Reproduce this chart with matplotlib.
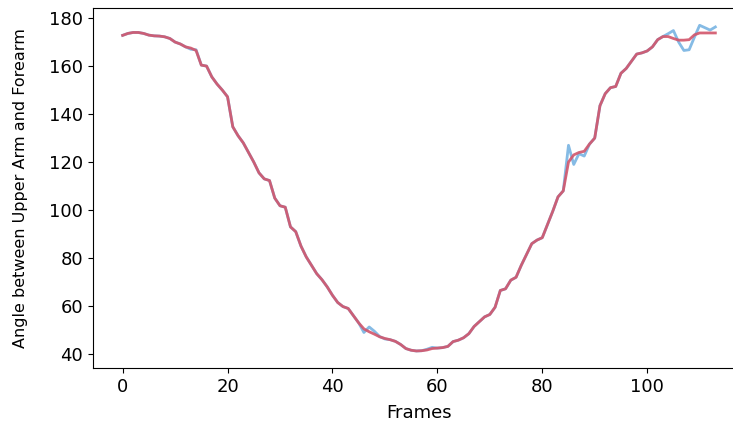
import matplotlib
matplotlib.use("Agg")
import matplotlib.pyplot as plt
import numpy as np

frames = list(range(114))

smoothed = [
    172.8, 173.6, 174.0, 174.0, 173.6, 172.9, 172.6, 172.5, 172.2, 171.5,
    170.0, 169.2, 168.0, 167.5, 166.5, 160.4, 160.0, 155.5, 152.5, 150.0,
    147.2, 134.7, 131.0, 128.0, 124.0, 120.0, 115.5, 113.0, 112.3, 105.0,
    101.8, 101.2, 93.0, 91.0, 85.0, 80.5, 77.0, 73.5, 71.0, 68.0,
    64.5, 61.5, 59.8, 59.0, 56.0, 53.0, 50.5, 49.3, 48.3, 47.2,
    46.5, 46.0, 45.3, 44.0, 42.3, 41.6, 41.3, 41.4, 41.7, 42.3,
    42.5, 42.7, 43.2, 45.2, 45.8, 46.8, 48.5, 51.5, 53.5, 55.5,
    56.5, 59.5, 66.5, 67.2, 70.8, 72.0, 77.0, 81.5, 86.0, 87.5,
    88.5, 94.0, 99.5, 105.5, 108.0, 120.0, 123.0, 124.0, 124.5, 127.5,
    130.0, 143.5, 148.5, 151.0, 151.5, 157.0, 159.0, 162.0, 165.0, 165.5,
    166.3, 168.0, 171.0, 172.3, 172.3, 171.5, 170.8, 170.8, 171.0, 173.0,
    173.8, 173.8, 173.8, 173.8,
]

raw = [
    172.8, 173.6, 174.0, 174.0, 173.6, 172.9, 172.6, 172.5, 172.2, 171.5,
    170.0, 169.2, 168.0, 167.0, 166.8, 160.4, 160.0, 155.5, 152.5, 150.0,
    147.2, 134.7, 131.0, 128.0, 124.0, 120.0, 115.5, 113.0, 112.3, 105.0,
    101.8, 101.2, 93.0, 91.0, 85.0, 80.5, 77.0, 73.5, 71.0, 68.0,
    64.5, 61.5, 59.8, 59.0, 56.0, 53.0, 49.0, 51.3, 49.5, 47.3,
    46.3, 46.0, 45.3, 44.0, 42.3, 41.6, 41.3, 41.4, 42.0, 42.8,
    42.5, 42.7, 43.2, 45.2, 45.8, 46.8, 48.5, 51.5, 53.5, 55.5,
    56.5, 59.5, 66.5, 67.2, 70.8, 72.0, 77.0, 81.5, 86.0, 87.5,
    88.5, 94.0, 99.5, 105.5, 108.0, 127.0, 119.0, 123.5, 122.5, 127.5,
    130.0, 143.5, 148.5, 151.0, 151.5, 157.0, 159.0, 162.0, 165.0, 165.5,
    166.3, 168.0, 171.0, 172.3, 173.5, 174.8, 170.0, 166.5, 166.8, 172.0,
    177.0, 176.0, 175.0, 176.3,
]

W, H = 733, 426
fig = plt.figure(figsize=(W / 100, H / 100), dpi=100)
# axes placement in pixels: left 93, top 8, bottom 368, right edge beyond canvas (cropped)
left_px, right_px, top_px, bot_px = 93, 745, 8, 368
ax = fig.add_axes([left_px / W, 1 - bot_px / H, (right_px - left_px) / W, (bot_px - top_px) / H])

ax.plot(frames, raw, color="#85bbe5", linewidth=2.0)
ax.plot(frames, smoothed, color="#d2556b", linewidth=2.0, alpha=0.9)

ax.set_xlim(-5.65, 118.65)
ax.set_ylim(34.2, 184.2)
ax.set_xticks([0, 20, 40, 60, 80, 100])
ax.set_yticks([40, 60, 80, 100, 120, 140, 160, 180])
ax.tick_params(labelsize=13)
ax.spines["right"].set_visible(False)
ax.set_xlabel("Frames", fontsize=13, labelpad=6)
ax.set_ylabel("Angle between Upper Arm and Forearm", fontsize=11.5, labelpad=15)

fig.savefig("out.png", dpi=100)
